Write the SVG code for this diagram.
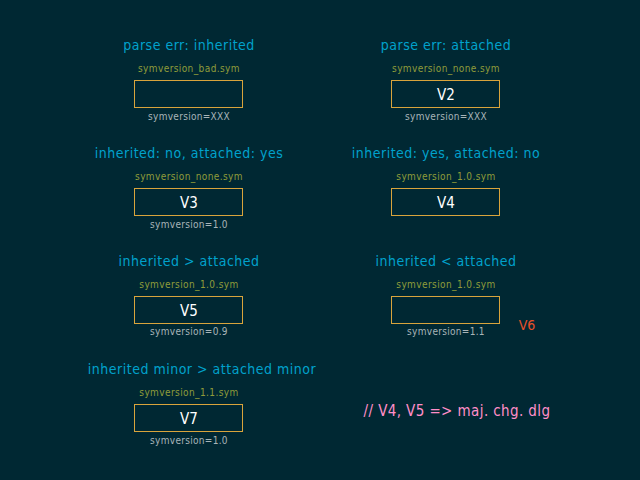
<svg xmlns="http://www.w3.org/2000/svg" width="640" height="480" viewBox="0 0 640 480">
<style>
.t{font-family:"DejaVu Sans Condensed","DejaVu Sans",sans-serif;font-size:14px;fill:#00a2cc;text-anchor:middle;letter-spacing:0.5px}
.f{font-family:"DejaVu Sans Condensed","DejaVu Sans",sans-serif;font-size:10px;fill:#8f9c3a;text-anchor:middle;letter-spacing:0.4px}
.a{font-family:"DejaVu Sans Condensed","DejaVu Sans",sans-serif;font-size:10px;fill:#a8b4b8;text-anchor:middle;letter-spacing:0.3px}
.l{font-family:"DejaVu Sans Condensed","DejaVu Sans",sans-serif;font-size:15px;fill:#ffffff;text-anchor:middle}
.b{fill:none;stroke:#d9a43c;stroke-width:1}
</style>
<rect width="640" height="480" fill="#002833"/>
<g id="n1">
<text class="t" x="189" y="50">parse err: inherited</text>
<text class="f" x="189" y="72">symversion_bad.sym</text>
<rect class="b" x="134.5" y="80.5" width="108" height="27"/>
<text class="a" x="189" y="120">symversion=XXX</text>
</g>
<g id="n2">
<text class="t" x="446" y="50">parse err: attached</text>
<text class="f" x="446" y="72">symversion_none.sym</text>
<rect class="b" x="391.5" y="80.5" width="108" height="27"/>
<text class="l" x="446" y="100">V2</text>
<text class="a" x="446" y="120">symversion=XXX</text>
</g>
<g id="n3">
<text class="t" x="189" y="158">inherited: no, attached: yes</text>
<text class="f" x="189" y="180">symversion_none.sym</text>
<rect class="b" x="134.5" y="188.5" width="108" height="27"/>
<text class="l" x="189" y="208">V3</text>
<text class="a" x="189" y="228">symversion=1.0</text>
</g>
<g id="n4">
<text class="t" x="446" y="158">inherited: yes, attached: no</text>
<text class="f" x="446" y="180">symversion_1.0.sym</text>
<rect class="b" x="391.5" y="188.5" width="108" height="27"/>
<text class="l" x="446" y="208">V4</text>
</g>
<g id="n5">
<text class="t" x="189" y="266">inherited &gt; attached</text>
<text class="f" x="189" y="288">symversion_1.0.sym</text>
<rect class="b" x="134.5" y="296.5" width="108" height="27"/>
<text class="l" x="189" y="316">V5</text>
<text class="a" x="189" y="335">symversion=0.9</text>
</g>
<g id="n6">
<text class="t" x="446" y="266">inherited &lt; attached</text>
<text class="f" x="446" y="288">symversion_1.0.sym</text>
<rect class="b" x="391.5" y="296.5" width="108" height="27"/>
<text class="a" x="446" y="335">symversion=1.1</text>
<text class="l" x="527" y="330" style="fill:#e8502a;font-size:14px">V6</text>
</g>
<g id="n7">
<text class="t" x="202" y="374">inherited minor &gt; attached minor</text>
<text class="f" x="189" y="396">symversion_1.1.sym</text>
<rect class="b" x="134.5" y="404.5" width="108" height="27"/>
<text class="l" x="189" y="424">V7</text>
<text class="a" x="189" y="444">symversion=1.0</text>
</g>
<g id="connectors"/>
<text x="457" y="416" style="font-family:'DejaVu Sans Condensed','DejaVu Sans',sans-serif;font-size:15px;fill:#ff8ec8;text-anchor:middle;letter-spacing:0.4px">// V4, V5 =&gt; maj. chg. dlg</text>
</svg>
